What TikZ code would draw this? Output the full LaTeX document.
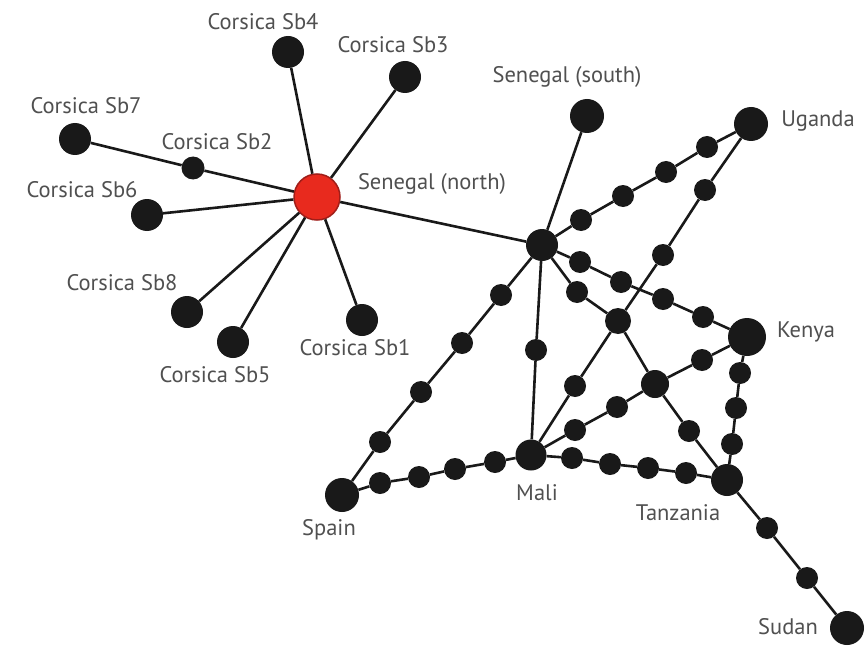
\documentclass[tikz,border=0pt]{standalone}
\usepackage{fontspec}
\setmainfont{PT Sans}
\definecolor{ink}{RGB}{25,25,25}
\definecolor{lbl}{RGB}{80,80,80}
\definecolor{redfill}{RGB}{232,42,30}
\definecolor{redline}{RGB}{160,30,25}
\tikzset{
  big/.style={circle,fill=ink,draw=none,minimum size=32pt,inner sep=0pt},
  sml/.style={circle,fill=ink,draw=none,minimum size=22pt,inner sep=0pt},
  hubred/.style={circle,fill=redfill,draw=redline,line width=1.5pt,minimum size=46pt,inner sep=0pt},
  edge/.style={draw=ink,line width=2.6pt},
  lab/.style={text=lbl,font=\fontsize{22.5}{24}\selectfont,inner sep=0pt}
}
\begin{document}
\begin{tikzpicture}[x=1pt,y=-1pt]
\useasboundingbox[fill=white] (0,0) rectangle (866,647);
% Corsica / Senegal north cluster
\node[hubred] (SN) at (317,197) {};
\node[big] (S4) at (288,52) {};
\node[big] (S3) at (405,77) {};
\node[big] (S7) at (75,139) {};
\node[sml,minimum size=23pt] (S2) at (193,168) {};
\node[big] (S6) at (147,215) {};
\node[big] (S8) at (187,312) {};
\node[big] (S5) at (233,342) {};
\node[big] (S1) at (362,320) {};
% main hubs
\node[big] (H) at (542,245) {};
\node[big,minimum size=34pt] (SS) at (587,116) {};
\node[big,minimum size=34pt] (U) at (751,124) {};
\node[big,minimum size=38pt] (K) at (747,337) {};
\node[big,minimum size=31pt] (M) at (531,455) {};
\node[big] (T) at (727,480) {};
\node[big,minimum size=34pt] (Sp) at (342,495) {};
\node[big,minimum size=34pt] (Su) at (847,628) {};
% intermediates
\node[sml] (a1) at (581,220) {};
\node[sml] (a2) at (623,196) {};
\node[sml] (a3) at (666,172) {};
\node[sml] (a4) at (707,147) {};
\node[sml] (b1) at (705,190) {};
\node[sml] (b2) at (663,255) {};
\node[sml,minimum size=26pt] (X) at (618,321) {};
\node[sml] (b3) at (575,386) {};
\node[sml] (c1) at (577,292) {};
\node[sml,minimum size=28pt] (Y) at (655,384) {};
\node[sml] (c2) at (689,431) {};
\node[sml] (d1) at (580,262) {};
\node[sml] (d2) at (621,282) {};
\node[sml] (d3) at (663,299) {};
\node[sml] (d4) at (703,317) {};
\node[sml] (e1) at (702,360) {};
\node[sml] (f1) at (617,407) {};
\node[sml] (f2) at (575,430) {};
\node[sml] (g1) at (740,373) {};
\node[sml] (g2) at (736,408) {};
\node[sml] (g3) at (732,444) {};
\node[sml] (h1) at (572,458) {};
\node[sml] (h2) at (610,464) {};
\node[sml] (h3) at (648,468) {};
\node[sml] (h4) at (686,473) {};
\node[sml] (i1) at (536,350) {};
\node[sml] (j1) at (501,295) {};
\node[sml] (j2) at (462,343) {};
\node[sml] (j3) at (421,392) {};
\node[sml] (j4) at (380,442) {};
\node[sml] (k1) at (380,483) {};
\node[sml] (k2) at (419,477) {};
\node[sml] (k3) at (455,469) {};
\node[sml] (k4) at (495,462) {};
\node[sml] (l1) at (767,528) {};
\node[sml] (l2) at (807,578) {};
% edges
\draw[edge] (SN) -- (S4);
\draw[edge] (SN) -- (S3);
\draw[edge] (SN) -- (S2) -- (S7);
\draw[edge] (SN) -- (S6);
\draw[edge] (SN) -- (S8);
\draw[edge] (SN) -- (S5);
\draw[edge] (SN) -- (S1);
\draw[edge] (SN) -- (H);
\draw[edge] (H) -- (SS);
\draw[edge] (H) -- (a1) -- (a2) -- (a3) -- (a4) -- (U);
\draw[edge] (U) -- (b1) -- (b2) -- (X) -- (b3) -- (M);
\draw[edge] (H) -- (c1) -- (X) -- (Y) -- (c2) -- (T);
\draw[edge] (H) -- (d1) -- (d2) -- (d3) -- (d4) -- (K);
\draw[edge] (K) -- (e1) -- (Y) -- (f1) -- (f2) -- (M);
\draw[edge] (K) -- (g1) -- (g2) -- (g3) -- (T);
\draw[edge] (M) -- (h1) -- (h2) -- (h3) -- (h4) -- (T);
\draw[edge] (H) -- (i1) -- (M);
\draw[edge] (H) -- (j1) -- (j2) -- (j3) -- (j4) -- (Sp);
\draw[edge] (Sp) -- (k1) -- (k2) -- (k3) -- (k4) -- (M);
\draw[edge] (T) -- (l1) -- (l2) -- (Su);
% labels
\node[lab] (tS4) at (263,22) {Corsica Sb4};
\node[lab] (tS3) at (393,45) {Corsica Sb3};
\node[lab] (tS7) at (86,106) {Corsica Sb7};
\node[lab] (tS2) at (217,142) {Corsica Sb2};
\node[lab] (tS6) at (82,190) {Corsica Sb6};
\node[lab] (tSN) at (432,184) {Senegal (north)};
\node[lab] (tS8) at (122,283) {Corsica Sb8};
\node[lab] (tS5) at (215,375) {Corsica Sb5};
\node[lab] (tS1) at (355,348) {Corsica Sb1};
\node[lab] (tSS) at (567,77) {Senegal (south)};
\node[lab] (tU) at (818,121) {Uganda};
\node[lab] (tK) at (806,332) {Kenya};
\node[lab] (tM) at (537,493) {Mali};
\node[lab] (tSp) at (329,530) {Spain};
\node[lab] (tT) at (678,513) {Tanzania};
\node[lab] (tSu) at (788,627) {Sudan};
\end{tikzpicture}
\end{document}
